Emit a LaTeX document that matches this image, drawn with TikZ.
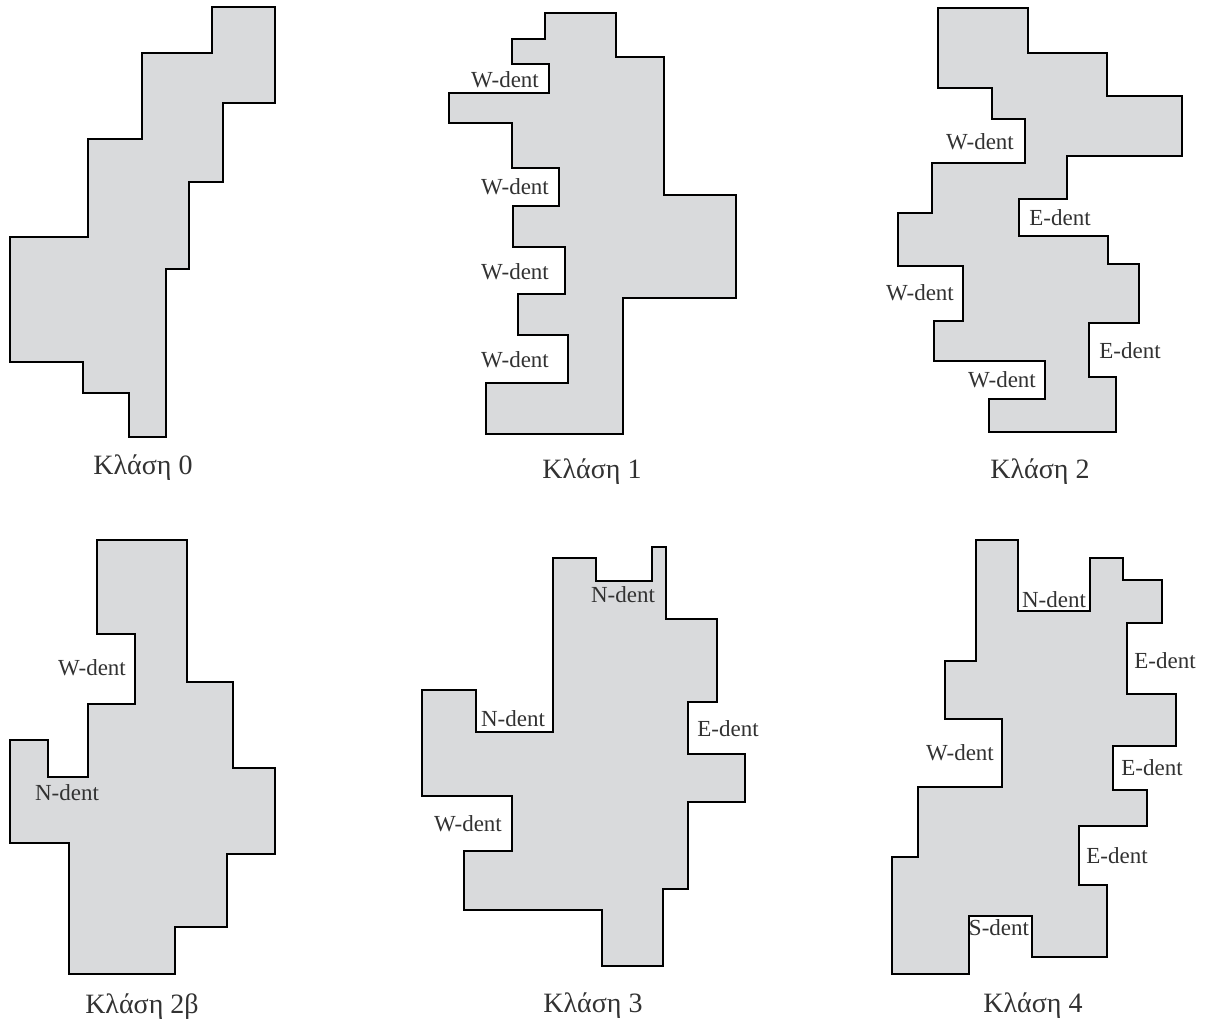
\documentclass[tikz,border=0pt]{standalone}
\usepackage{fontspec}
\setmainfont{Liberation Serif}
\definecolor{tilegray}{RGB}{217,218,220}
\definecolor{inkgray}{RGB}{50,50,50}
\tikzset{
  region/.style={draw=black, fill=tilegray, line width=1pt, line join=miter},
  dent/.style={inner sep=0pt, text=inkgray, font=\fontsize{11.5}{13}\selectfont},
  klasi/.style={inner sep=0pt, text=inkgray, font=\fontsize{14}{16}\selectfont}
}
\begin{document}
\begin{tikzpicture}[x=0.5pt,y=-0.5pt]
\useasboundingbox (0,0) rectangle (1208,1021);
% class 0
\draw[region] (212,7) -- (275,7) -- (275,103) -- (223,103) -- (223,182) -- (189,182) -- (189,269) -- (166,269) -- (166,437) -- (129,437) -- (129,393) -- (83,393) -- (83,362) -- (10,362) -- (10,237) -- (88,237) -- (88,139) -- (142,139) -- (142,53) -- (212,53) -- cycle;
\node[klasi] (k0) at (143,468) {Κλάση 0};
% class 1
\draw[region] (545,13) -- (616,13) -- (616,57) -- (664,57) -- (664,195) -- (736,195) -- (736,298) -- (623,298) -- (623,434) -- (486,434) -- (486,383) -- (568,383) -- (568,335) -- (518,335) -- (518,294) -- (565,294) -- (565,247) -- (513,247) -- (513,206) -- (559,206) -- (559,168) -- (512,168) -- (512,123) -- (449,123) -- (449,93) -- (549,93) -- (549,64) -- (512,64) -- (512,39) -- (545,39) -- cycle;
\node[dent] (w1a) at (505,80) {W-dent};
\node[dent] (w1b) at (515,187) {W-dent};
\node[dent] (w1c) at (515,272) {W-dent};
\node[dent] (w1d) at (515,360) {W-dent};
\node[klasi] (k1) at (592,472) {Κλάση 1};
% class 2
\draw[region] (938,8) -- (1028,8) -- (1028,53) -- (1107,53) -- (1107,96) -- (1182,96) -- (1182,156) -- (1067,156) -- (1067,199) -- (1019,199) -- (1019,236) -- (1108,236) -- (1108,264) -- (1139,264) -- (1139,323) -- (1089,323) -- (1089,377) -- (1116,377) -- (1116,432) -- (989,432) -- (989,399) -- (1045,399) -- (1045,361) -- (934,361) -- (934,321) -- (963,321) -- (963,266) -- (898,266) -- (898,213) -- (932,213) -- (932,163) -- (1025,163) -- (1025,119) -- (992,119) -- (992,88) -- (938,88) -- cycle;
\node[dent] (w2a) at (980,142) {W-dent};
\node[dent] (e2a) at (1060,218) {E-dent};
\node[dent] (w2b) at (920,293) {W-dent};
\node[dent] (e2b) at (1130,351) {E-dent};
\node[dent] (w2c) at (1002,380) {W-dent};
\node[klasi] (k2) at (1040,472) {Κλάση 2};
% class 2b
\draw[region] (97,540) -- (187,540) -- (187,682) -- (233,682) -- (233,768) -- (275,768) -- (275,854) -- (227,854) -- (227,927) -- (175,927) -- (175,974) -- (69,974) -- (69,843) -- (10,843) -- (10,740) -- (48,740) -- (48,777) -- (88,777) -- (88,704) -- (135,704) -- (135,634) -- (97,634) -- cycle;
\node[dent] (w2ba) at (92,668) {W-dent};
\node[dent] (n2ba) at (67,793) {N-dent};
\node[klasi] (k2b) at (142,1007) {Κλάση 2β};
% class 3
\draw[region] (553,558) -- (596,558) -- (596,581) -- (652,581) -- (652,547) -- (666,547) -- (666,619) -- (717,619) -- (717,702) -- (688,702) -- (688,754) -- (745,754) -- (745,802) -- (688,802) -- (688,889) -- (663,889) -- (663,966) -- (602,966) -- (602,910) -- (464,910) -- (464,851) -- (512,851) -- (512,796) -- (422,796) -- (422,690) -- (476,690) -- (476,732) -- (553,732) -- cycle;
\node[dent] (n3a) at (623,595) {N-dent};
\node[dent] (n3b) at (513,719) {N-dent};
\node[dent] (e3a) at (728,729) {E-dent};
\node[dent] (w3a) at (468,824) {W-dent};
\node[klasi] (k3) at (593,1006) {Κλάση 3};
% class 4
\draw[region] (976,540) -- (1018,540) -- (1018,611) -- (1090,611) -- (1090,558) -- (1123,558) -- (1123,580) -- (1162,580) -- (1162,623) -- (1127,623) -- (1127,694) -- (1176,694) -- (1176,746) -- (1113,746) -- (1113,790) -- (1147,790) -- (1147,826) -- (1079,826) -- (1079,885) -- (1107,885) -- (1107,957) -- (1032,957) -- (1032,916) -- (969,916) -- (969,974) -- (892,974) -- (892,857) -- (918,857) -- (918,787) -- (1002,787) -- (1002,719) -- (945,719) -- (945,661) -- (976,661) -- cycle;
\node[dent] (n4a) at (1054,600) {N-dent};
\node[dent] (e4a) at (1165,661) {E-dent};
\node[dent] (w4a) at (960,753) {W-dent};
\node[dent] (e4b) at (1152,768) {E-dent};
\node[dent] (e4c) at (1117,856) {E-dent};
\node[dent] (s4a) at (999,928) {S-dent};
\node[klasi] (k4) at (1033,1006) {Κλάση 4};
\end{tikzpicture}
\end{document}
